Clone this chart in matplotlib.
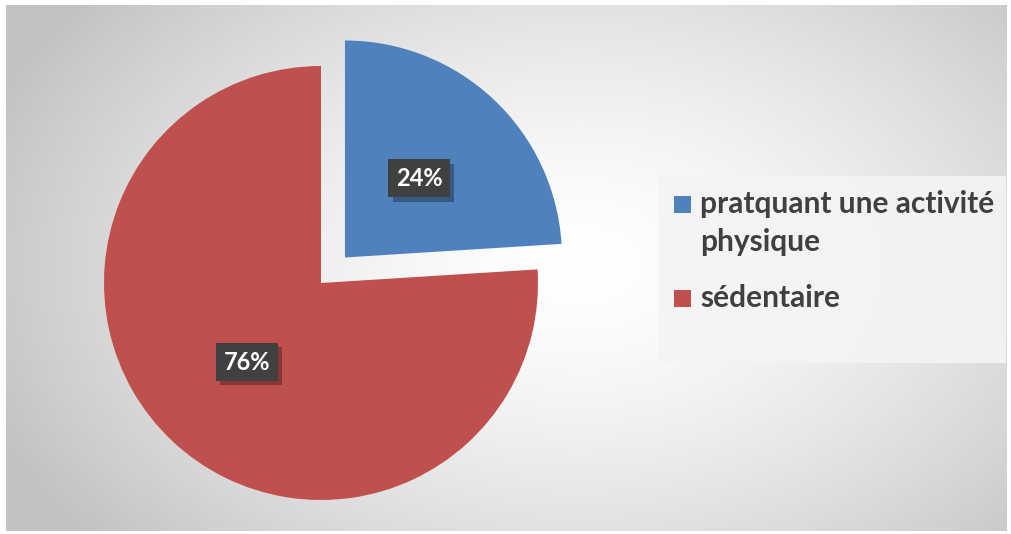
import numpy as np
import matplotlib.pyplot as plt
from matplotlib.patches import Rectangle
import matplotlib.patheffects as pe

labels = ['pratquant une activité\nphysique', 'sédentaire']
values = [24, 76]
colors = ['#4f81bd', '#c0504d']
explode = [35, 0]

W, H = 1011, 534
plt.rcParams['font.family'] = ['Lato', 'DejaVu Sans']

fig = plt.figure(figsize=(W / 100, H / 100), dpi=100)
ax = fig.add_axes([0, 0, 1, 1])

# light radial gradient inside a thin white margin
yy, xx = np.mgrid[0:H, 0:W]
r = np.sqrt(((xx - 580) / 640.0) ** 2 + ((yy - 265) / 430.0) ** 2)
shade = 1 - 0.24 * np.clip(r, 0, 1) ** 1.5
shade[(xx < 6) | (xx > 1006) | (yy < 5) | (yy > 530)] = 1.0
ax.imshow(np.dstack([shade] * 3), extent=(0, W, 0, H), origin='upper', zorder=0)

wedges, _, pcts = ax.pie(values, explode=explode, colors=colors, startangle=90,
                         counterclock=False, radius=217, center=(321, H - 283),
                         autopct='%.0f%%', pctdistance=0.5,
                         wedgeprops=dict(linewidth=0, zorder=2))
for t in pcts:
    t.set(color='white', fontsize=17, fontweight='bold', zorder=4)
    t.set_bbox(dict(boxstyle='square,pad=0.32', fc='#404040', ec='none'))
    t.get_bbox_patch().set_path_effects([
        pe.SimplePatchShadow(offset=(3, -3), shadow_rgbFace='black', alpha=0.3),
        pe.Normal()])

# legend panel, drawn by hand so the marker sits on the first text line
ax.add_patch(Rectangle((658, H - 363), 348, 187, fc='#f4f4f4', ec='none', alpha=0.9, zorder=1))
baselines = [213, 307]
line_step = 38
for lab, col, base in zip(labels, colors, baselines):
    ax.add_patch(Rectangle((674, H - base), 17, 17, fc=col, ec='none', zorder=3))
    for j, line in enumerate(lab.split('\n')):
        ax.text(700, H - base - j * line_step, line, va='baseline', ha='left',
                fontsize=21.5, fontweight='bold', color='#404040', zorder=3)

ax.set_xlim(0, W)
ax.set_ylim(0, H)
ax.set_aspect('equal')
ax.axis('off')

fig.savefig('out.png', dpi=100)
